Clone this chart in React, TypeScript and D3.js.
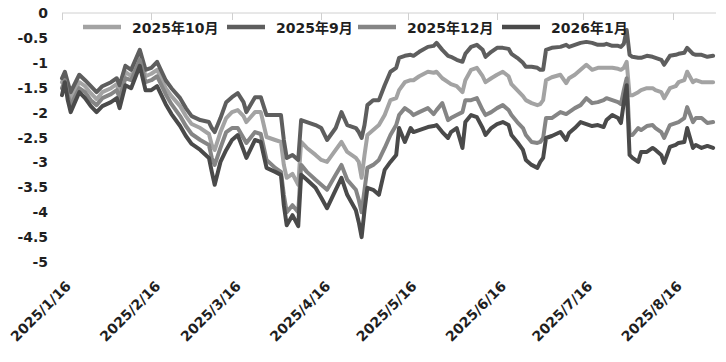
import React from "react";
import * as d3 from "d3";

const dates = [
  "2025-01-16","2025-01-17","2025-01-18","2025-01-19","2025-01-22","2025-01-24","2025-01-26","2025-01-28","2025-01-30",
  "2025-02-02","2025-02-04","2025-02-05","2025-02-07","2025-02-09","2025-02-12","2025-02-14","2025-02-16","2025-02-18",
  "2025-02-21","2025-02-23","2025-02-26","2025-02-28","2025-03-02","2025-03-05","2025-03-08","2025-03-09","2025-03-10",
  "2025-03-12","2025-03-14","2025-03-16","2025-03-18","2025-03-20","2025-03-21","2025-03-24","2025-03-26","2025-03-28",
  "2025-03-31","2025-04-02","2025-04-03","2025-04-04","2025-04-06","2025-04-08","2025-04-09","2025-04-11","2025-04-14",
  "2025-04-16","2025-04-18","2025-04-21","2025-04-23","2025-04-25","2025-04-28","2025-04-29","2025-04-30","2025-05-01",
  "2025-05-02","2025-05-04","2025-05-06","2025-05-08","2025-05-10","2025-05-12","2025-05-13","2025-05-15","2025-05-17",
  "2025-05-18","2025-05-20","2025-05-23","2025-05-25","2025-05-26","2025-05-28","2025-05-30","2025-05-31","2025-06-02",
  "2025-06-04","2025-06-05","2025-06-07","2025-06-09","2025-06-11","2025-06-12","2025-06-14","2025-06-16","2025-06-18",
  "2025-06-20","2025-06-21","2025-06-23","2025-06-25","2025-06-26","2025-06-28","2025-06-30","2025-07-01","2025-07-02",
  "2025-07-03","2025-07-05","2025-07-08","2025-07-10","2025-07-11","2025-07-13","2025-07-15","2025-07-17","2025-07-19",
  "2025-07-21","2025-07-23","2025-07-24","2025-07-26","2025-07-28","2025-07-29","2025-07-30","2025-07-31","2025-08-01",
  "2025-08-02","2025-08-04","2025-08-05","2025-08-07","2025-08-09","2025-08-10","2025-08-12","2025-08-13","2025-08-15",
  "2025-08-17","2025-08-18","2025-08-20","2025-08-21","2025-08-23","2025-08-24","2025-08-26","2025-08-28","2025-08-30",
];

const sep2509 = [
  -1.31,-1.18,-1.39,-1.59,-1.24,-1.35,-1.47,-1.59,-1.47,
  -1.39,-1.31,-1.45,-1.06,-1.14,-0.74,-1.14,-1.10,-0.98,
  -1.35,-1.51,-1.71,-1.91,-2.07,-2.15,-2.19,-2.31,-2.39,
  -2.11,-1.79,-1.69,-1.61,-1.79,-1.99,-1.69,-1.69,-2.05,
  -2.05,-2.05,-2.55,-2.91,-2.85,-2.95,-2.15,-2.19,-2.25,
  -2.31,-2.55,-2.31,-1.99,-2.25,-2.31,-2.39,-2.51,-2.25,
  -1.85,-1.75,-1.75,-1.45,-1.18,-1.10,-0.90,-0.86,-0.84,
  -0.86,-0.78,-0.68,-0.66,-0.60,-0.74,-0.86,-0.88,-0.94,
  -0.98,-0.82,-0.68,-0.64,-0.74,-0.88,-0.78,-0.70,-0.70,
  -0.72,-0.82,-0.90,-1.00,-1.08,-1.08,-1.10,-1.14,-1.14,
  -0.74,-0.70,-0.68,-0.64,-0.68,-0.64,-0.60,-0.58,-0.60,
  -0.64,-0.64,-0.62,-0.66,-0.66,-0.68,-0.62,-0.34,-0.84,
  -0.88,-0.90,-0.90,-0.86,-0.88,-0.90,-0.94,-1.04,-0.86,
  -0.84,-0.82,-0.80,-0.70,-0.82,-0.84,-0.84,-0.88,-0.86,
];

const oct2510 = [
  -1.39,-1.27,-1.51,-1.71,-1.39,-1.47,-1.61,-1.73,-1.59,
  -1.51,-1.43,-1.59,-1.18,-1.27,-0.84,-1.27,-1.22,-1.14,
  -1.51,-1.67,-1.87,-2.07,-2.23,-2.31,-2.43,-2.65,-2.75,
  -2.39,-2.11,-1.99,-1.95,-2.07,-2.19,-1.99,-1.99,-2.49,
  -2.55,-2.59,-3.05,-3.31,-3.23,-3.45,-2.59,-2.71,-2.85,
  -2.95,-2.99,-2.75,-2.59,-2.79,-2.91,-2.99,-3.31,-2.85,
  -2.45,-2.35,-2.25,-2.05,-1.75,-1.71,-1.55,-1.39,-1.35,
  -1.35,-1.27,-1.18,-1.20,-1.18,-1.31,-1.39,-1.43,-1.47,
  -1.59,-1.35,-1.14,-1.10,-1.27,-1.39,-1.31,-1.24,-1.18,
  -1.27,-1.43,-1.55,-1.67,-1.75,-1.81,-1.85,-1.83,-1.75,
  -1.35,-1.29,-1.24,-1.41,-1.31,-1.24,-1.14,-1.04,-1.14,
  -1.10,-1.10,-1.10,-1.10,-1.12,-1.14,-1.10,-0.98,-1.65,
  -1.65,-1.59,-1.55,-1.51,-1.51,-1.55,-1.59,-1.71,-1.51,
  -1.47,-1.39,-1.35,-1.18,-1.39,-1.35,-1.39,-1.39,-1.39,
];

const dec2512 = [
  -1.51,-1.35,-1.65,-1.85,-1.51,-1.59,-1.75,-1.85,-1.71,
  -1.63,-1.55,-1.71,-1.31,-1.35,-0.94,-1.39,-1.35,-1.27,
  -1.63,-1.83,-2.07,-2.27,-2.43,-2.55,-2.65,-2.91,-3.05,
  -2.71,-2.39,-2.31,-2.31,-2.51,-2.61,-2.39,-2.43,-2.95,
  -3.11,-3.19,-3.65,-4.00,-3.86,-4.00,-3.05,-3.19,-3.35,
  -3.45,-3.55,-3.25,-3.05,-3.35,-3.55,-3.75,-4.00,-3.55,
  -3.11,-3.05,-2.95,-2.71,-2.45,-2.25,-2.05,-1.91,-1.99,
  -2.05,-1.99,-1.91,-2.03,-1.95,-1.81,-2.15,-2.11,-2.05,
  -1.99,-1.75,-1.75,-1.71,-1.95,-2.05,-1.99,-1.91,-1.85,
  -1.95,-2.05,-2.19,-2.31,-2.45,-2.59,-2.61,-2.59,-2.51,
  -2.11,-2.11,-1.99,-2.03,-1.99,-1.91,-1.85,-1.71,-1.81,
  -1.79,-1.75,-1.71,-1.75,-1.79,-1.83,-1.55,-1.31,-2.45,
  -2.45,-2.31,-2.35,-2.27,-2.25,-2.31,-2.39,-2.51,-2.25,
  -2.21,-2.19,-2.11,-1.89,-2.19,-2.11,-2.11,-2.21,-2.19,
];

const jan2601 = [
  -1.65,-1.39,-1.75,-1.99,-1.59,-1.71,-1.87,-1.99,-1.87,
  -1.79,-1.71,-1.91,-1.45,-1.51,-1.06,-1.55,-1.55,-1.47,
  -1.83,-2.03,-2.27,-2.47,-2.63,-2.75,-2.91,-3.19,-3.45,
  -2.99,-2.75,-2.55,-2.45,-2.75,-2.91,-2.55,-2.59,-3.11,
  -3.19,-3.25,-3.86,-4.26,-4.06,-4.28,-3.25,-3.35,-3.51,
  -3.71,-3.92,-3.55,-3.31,-3.65,-3.96,-4.20,-4.50,-3.96,
  -3.51,-3.55,-3.65,-3.15,-2.99,-2.85,-2.31,-2.59,-2.31,
  -2.39,-2.35,-2.29,-2.27,-2.25,-2.39,-2.51,-2.39,-2.31,
  -2.71,-2.19,-2.05,-2.09,-2.31,-2.45,-2.31,-2.23,-2.19,
  -2.25,-2.45,-2.59,-2.75,-2.95,-3.05,-3.11,-2.99,-2.91,
  -2.51,-2.47,-2.39,-2.55,-2.41,-2.31,-2.19,-2.23,-2.27,
  -2.25,-2.29,-2.15,-2.05,-2.11,-2.21,-1.80,-1.45,-2.85,
  -2.91,-2.99,-2.79,-2.79,-2.71,-2.75,-2.85,-3.01,-2.69,
  -2.65,-2.61,-2.59,-2.31,-2.71,-2.65,-2.71,-2.67,-2.71,
];

const seriesNames = ["2025年10月", "2025年9月", "2025年12月", "2026年1月"];
const seriesValues = [oct2510, sep2509, dec2512, jan2601];
const seriesColors = ["#a3a3a3", "#5e5e5e", "#858585", "#4a4a4a"];

const yTicks = [0, -0.5, -1, -1.5, -2, -2.5, -3, -3.5, -4, -4.5, -5];
const xTickDates = [
  "2025-01-16","2025-02-16","2025-03-16","2025-04-16",
  "2025-05-16","2025-06-16","2025-07-16","2025-08-16",
];
const xDomain = ["2025-01-16", "2025-08-31"];

const FONT = "'DejaVu Sans', 'Noto Sans CJK SC', sans-serif";

export default function App() {
  const W = 726, H = 362;
  const parse = d3.timeParse("%Y-%m-%d");
  const fmt = d3.timeFormat("%Y/%-m/%-d");
  const parsed = dates.map((d) => parse(d) as Date);

  const left = 62, right = 716, top = 13, bottom = 262;
  const x = d3.scaleTime()
    .domain(xDomain.map((d) => parse(d) as Date))
    .range([left, right]);
  const y = d3.scaleLinear().domain([0, -5]).range([top, bottom]);

  const line = d3.line<number>()
    .x((_, i) => x(parsed[i]))
    .y((d) => y(d));

  const legendX = [83, 227, 358, 502];
  const legendY = 27;

  return (
    <svg width={W} height={H} style={{ position: "absolute", left: 0, top: 0, background: "#fff" }}
      fontFamily={FONT}>
      <rect x={0} y={0} width={W} height={H} fill="#fff" />
      <line x1={left} x2={right} y1={top} y2={top} stroke="#d0d0d0" strokeWidth={1} />
      {xTickDates.map((d) => {
        const xx = Math.round(x(parse(d) as Date)) + 0.5;
        return <line key={"t" + d} x1={xx} x2={xx} y1={top} y2={top + 7} stroke="#d0d0d0" strokeWidth={1} />;
      })}
      {yTicks.map((v) => (
        <text key={"y" + v} x={48} y={y(v) + 5} textAnchor="end" fontSize={14} fontWeight="bold" fill="#1f1f1f">
          {String(v)}
        </text>
      ))}
      {xTickDates.map((d) => {
        const xx = x(parse(d) as Date);
        return (
          <text key={"x" + d} transform={`translate(${xx + 10},${287}) rotate(-45)`} textAnchor="end"
            fontSize={14} fontWeight="bold" fill="#1f1f1f">
            {fmt(parse(d) as Date)}
          </text>
        );
      })}
      {seriesValues.map((vals, i) => (
        <path key={"s" + i} d={line(vals) || ""} fill="none" stroke={seriesColors[i]} strokeWidth={4}
          strokeLinejoin="round" strokeLinecap="round" />
      ))}
      {seriesNames.map((n, i) => (
        <g key={"l" + i}>
          <line x1={legendX[i]} x2={legendX[i] + 38} y1={legendY} y2={legendY} stroke={seriesColors[i]}
            strokeWidth={4.5} />
          <text x={legendX[i] + 49} y={legendY + 6} fontSize={14} fontWeight="bold" fill="#1f1f1f">{n}</text>
        </g>
      ))}
    </svg>
  );
}
